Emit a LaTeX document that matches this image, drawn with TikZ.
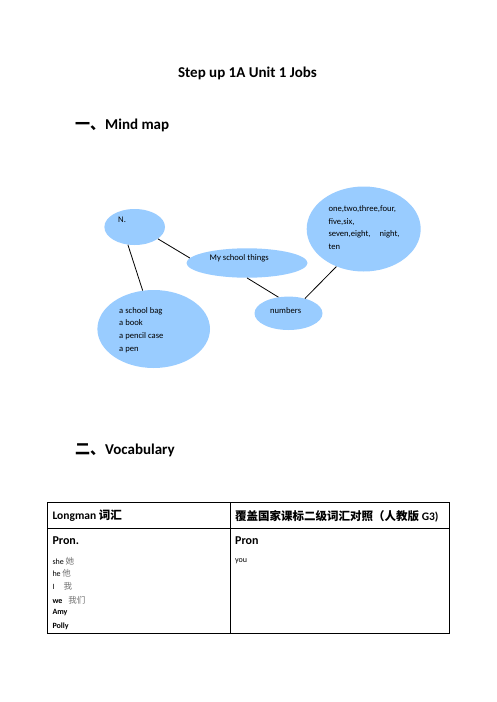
\documentclass[tikz,border=0pt]{standalone}
\usepackage{fontspec}
\setmainfont{Carlito}
\newfontfamily\cjk{Noto Sans CJK SC}
\usetikzlibrary{shapes.geometric}
\definecolor{bubble}{RGB}{153,204,255}
\definecolor{cjkgray}{RGB}{110,110,110}
\tikzset{
  bubble/.style={ellipse, fill=bubble, draw=none, inner sep=0pt},
  link/.style={draw=black, line width=0.8pt},
  txt/.style={anchor=west, inner sep=0pt, font=\fontsize{8.6}{12.8}\selectfont, align=left},
  cell/.style={anchor=west, inner sep=0pt, font=\fontsize{8}{9}\selectfont},
  heading/.style={inner sep=0pt, font=\fontsize{15}{17}\selectfont\bfseries},
  grid/.style={draw=black, line width=1pt}
}
\begin{document}
\begin{tikzpicture}[x=1pt,y=-1pt]
\useasboundingbox[fill=white] (0,0) rectangle (496,702);
% title and headings
\node[heading] (title) at (247.5,73.3) {Step up 1A Unit 1 Jobs};
\node[heading, anchor=west] (h1) at (75,125.7) {{\cjk 一、}Mind map};
\node[heading, anchor=west] (h2) at (75,450.7) {{\cjk 二、}Vocabulary};
% mind map bubbles
\node[bubble, minimum width=60.6pt, minimum height=36pt] (N) at (134.7,227) {};
\node[bubble, minimum width=121pt, minimum height=29.4pt] (MST) at (247,263) {};
\node[bubble, minimum width=114pt, minimum height=85pt] (NUMS) at (363.7,229) {};
\node[bubble, minimum width=68pt, minimum height=33.4pt] (num) at (288.5,313.3) {};
\node[bubble, minimum width=112.6pt, minimum height=78pt] (bag) at (153.7,329) {};
% bubble texts
\node[txt] (tN) at (118,220) {N.};
\node[txt] (tMST) at (209.5,258) {My school things};
\node[txt] (tNUMS) at (328.3,227.5) {one,two,three,four,\\five,six,\\seven,eight,\hspace{7pt} night,\\ten};
\node[txt] (tnum) at (270,311) {numbers};
\node[txt] (tbag) at (119,330) {a school bag\\a book\\a pencil case\\a pen};
% connectors
\draw[link] (N.249) -- (bag.106);
\draw[link] (N.333) -- (MST.175);
\draw[link] (MST.270) -- (num.122);
\draw[link] (num.42) -- (NUMS.234);
% table
\draw[grid] (47.3,502.3) rectangle (449.3,633.3);
\draw[grid] (47.3,528.3) -- (449.3,528.3);
\draw[grid] (230.3,502.3) -- (230.3,633.3);
\node[anchor=west, inner sep=0pt, font=\fontsize{11.5}{13}\selectfont\bfseries] (c1) at (52.3,516) {Longman {\cjk 词汇}};
\node[anchor=west, inner sep=0pt, font=\fontsize{11.5}{13}\selectfont\bfseries] (c2) at (235,516) {{\cjk 覆盖国家课标二级词汇对照（人教版} G3)};
\node[anchor=west, inner sep=0pt, font=\fontsize{12}{14}\selectfont\bfseries] (p1) at (52.3,541) {Pron.};
\node[anchor=west, inner sep=0pt, font=\fontsize{12}{14}\selectfont\bfseries] (p2) at (235,541) {Pron};
\node[cell] (w1) at (52.3,561) {she \textcolor{cjkgray}{\fontsize{8.5}{9}\selectfont\cjk 她}};
\node[cell] (w2) at (52.3,573.7) {he \textcolor{cjkgray}{\fontsize{8.5}{9}\selectfont\cjk 他}};
\node[cell] (w3) at (52.3,586.7) {I\hspace{9pt}\textcolor{cjkgray}{\fontsize{8.5}{9}\selectfont\cjk 我}};
\node[cell] (w4) at (52.3,600) {\textbf{we}\hspace{6pt}\textcolor{cjkgray}{\fontsize{8.5}{9}\selectfont\cjk 我们}};
\node[cell, font=\fontsize{8}{9}\selectfont\bfseries] (w5) at (52.3,612.7) {Amy};
\node[cell, font=\fontsize{8}{9}\selectfont\bfseries] (w6) at (52.3,626) {Polly};
\node[cell] (y1) at (235,561) {you};
\end{tikzpicture}
\end{document}
